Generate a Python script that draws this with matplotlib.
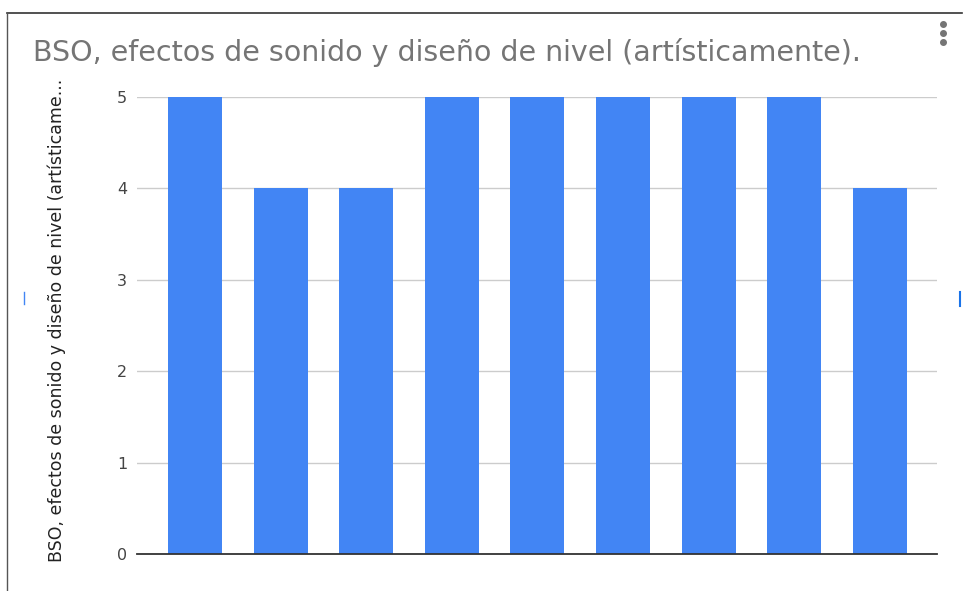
import matplotlib
matplotlib.use("Agg")
import matplotlib.pyplot as plt
from matplotlib.lines import Line2D

categories = ["1", "2", "3", "4", "5", "6", "7", "8", "9"]
values = [5, 4, 4, 5, 5, 5, 5, 5, 4]
yticks = [0, 1, 2, 3, 4, 5]
title = "BSO, efectos de sonido y diseño de nivel (artísticamente)."
ylabel = "BSO, efectos de sonido y diseño de nivel (artísticame..."

plt.rcParams['font.family'] = ['DejaVu Sans']

W, H = 966, 591
fig = plt.figure(figsize=(W / 100, H / 100), dpi=100)
fig.patch.set_facecolor("white")

ax = fig.add_axes([137 / W, 1 - 554 / H, 800 / W, (554 - 97) / H])
x = list(range(len(categories)))
ax.bar(x, values, width=0.63, color="#4285F4", zorder=3)
ax.set_xlim(-0.68, len(categories) - 1 + 0.67)
ax.set_ylim(0, 5)
ax.set_yticks(yticks)
ax.set_yticklabels([str(t) for t in yticks], fontsize=11.5, color="#444444")
ax.set_xticks([])
ax.grid(axis="y", color="#cccccc", linewidth=1, zorder=0)
ax.tick_params(axis="y", length=0, pad=7)
for s in ["top", "right", "left"]:
    ax.spines[s].set_visible(False)
ax.spines["bottom"].set_color("#333333")
ax.spines["bottom"].set_linewidth(1.3)
ax.spines["bottom"].set_zorder(4)

fig.text(57 / W, 1 - 320 / H, ylabel, rotation=90, ha="center", va="center",
         fontsize=12.5, color="#222222")
fig.text(33 / W, 1 - 61 / H, title, ha="left", va="baseline", fontsize=20.5,
         color="#757575")

# frame lines
fig.add_artist(Line2D([7 / W, 962 / W], [1 - 13 / H, 1 - 13 / H], color="#333333", lw=1.2))
fig.add_artist(Line2D([7 / W, 7 / W], [1 - 13 / H, 0], color="#555555", lw=1))
# three dots
for yy in [24, 33, 42]:
    fig.add_artist(Line2D([943 / W], [1 - yy / H], marker="o", markersize=4,
                          color="#757575", linestyle="none"))
# small blue marks
fig.add_artist(Line2D([24 / W, 24 / W], [1 - 292 / H, 1 - 304 / H], color="#4285F4", lw=1))
fig.add_artist(Line2D([960 / W, 960 / W], [1 - 292 / H, 1 - 306 / H], color="#1a73e8", lw=1.5))

fig.savefig("out.png", dpi=100, facecolor="white")
